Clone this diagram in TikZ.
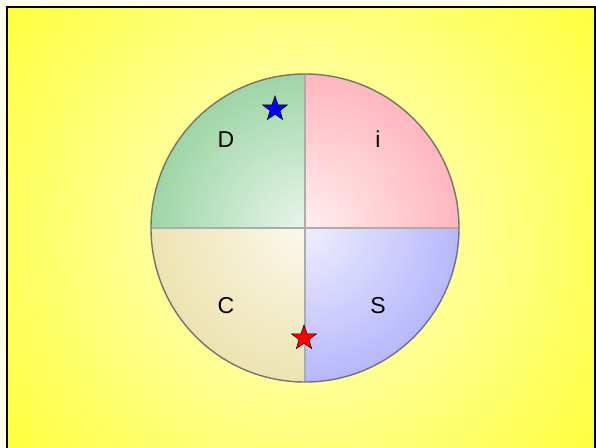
\documentclass[tikz,border=0pt]{standalone}
\usepackage{fontspec}
\setmainfont{Liberation Sans}
\usetikzlibrary{shapes.geometric,positioning}

\definecolor{quadD}{RGB}{140,206,150}
\definecolor{quadI}{RGB}{255,170,178}
\definecolor{quadC}{RGB}{234,222,162}
\definecolor{quadS}{RGB}{170,170,252}
\definecolor{bgYellow}{RGB}{255,255,30}
\definecolor{bgLight}{RGB}{255,255,215}

\begin{document}
\begin{tikzpicture}[
  x=1pt, y=-1pt,
  letter/.style={font=\fontsize{23}{27}\selectfont, anchor=base, inner sep=0pt},
  starmark/.style={star, star points=5, star point ratio=2.5, minimum size=26pt, inner sep=0pt, draw=black, line width=0.5pt},
  divider/.style={draw=gray!65, line width=2pt},
  rim/.style={draw=black!55, line width=1.4pt}
]
\useasboundingbox (0,0) rectangle (596,447);
\fill[white!92!yellow] (0,0) rectangle (596,447);

% background
\begin{scope}
  \clip (7,7) rectangle (595,460);
  \shade[inner color=bgLight, outer color=bgYellow] (300,228) circle (440pt);
\end{scope}
\draw[black, line width=2.5pt] (7,460) -- (7,7) -- (595,7) -- (595,460);

% disc and its quarters
\coordinate (ctr) at (305,228);
\foreach \qx/\qy/\qcol in {-1/-1/quadD, 1/-1/quadI, -1/1/quadC, 1/1/quadS} {
  \begin{scope}
    \clip (ctr) circle (154pt);
    \clip (ctr) rectangle +(160*\qx,160*\qy);
    \shade[inner color=\qcol!20!white, outer color=\qcol] (ctr) circle (190pt);
  \end{scope}
}
\node[circle, minimum size=308pt, inner sep=0pt] (disc) at (ctr) {};
\draw[divider] (disc.north) -- (disc.south);
\draw[divider] (disc.west) -- (disc.east);
\draw[rim] (ctr) circle (154pt);

% letters
\node[letter] (lD) at (226,147) {D};
\node[letter] (lI) at (378,147) {i};
\node[letter] (lC) at (226,313) {C};
\node[letter] (lS) at (378,313) {S};

% stars
\node[starmark, fill=blue] (sBlue) at (275,109) {};
\node[starmark, fill=red] (sRed) at (304,338) {};
\end{tikzpicture}
\end{document}
